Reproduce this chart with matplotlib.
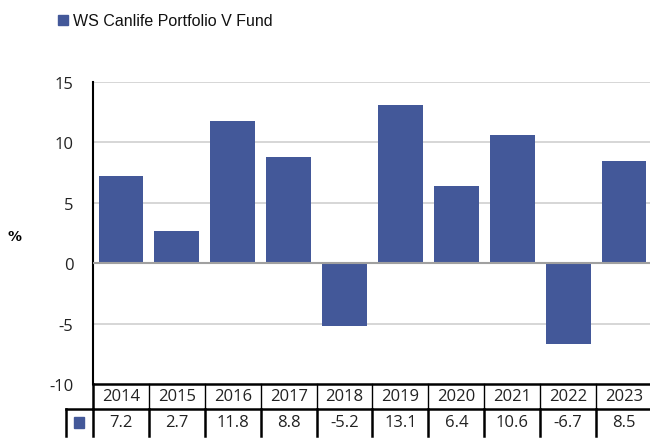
import matplotlib.pyplot as plt
from matplotlib.patches import Rectangle
import matplotlib.transforms as mtransforms

years = ["2014", "2015", "2016", "2017", "2018", "2019", "2020", "2021", "2022", "2023"]
returns = [7.2, 2.7, 11.8, 8.8, -5.2, 13.1, 6.4, 10.6, -6.7, 8.5]
series_name = "WS Canlife Portfolio V Fund"
yticks = [-10, -5, 0, 5, 10, 15]

bar_color = "#435899"
W, H = 650, 439

fig = plt.figure(figsize=(6.5, 4.39), dpi=100)
ax = fig.add_axes([93 / W, (H - 385) / H, (652 - 93) / W, (385 - 83) / H])

x = list(range(len(years)))
ax.bar(x, returns, width=0.8, color=bar_color, zorder=3)
ax.set_xlim(-0.5, len(years) - 0.5)
ax.set_ylim(-10, 15)
ax.set_yticks(yticks)
ax.set_yticklabels([str(t) for t in yticks], fontsize=12, family="Open Sans", color="#222222")
ax.set_xticks([])
for t in yticks:
    if t == 0:
        ax.axhline(t, color="#a0a0a0", lw=1.5, zorder=4)
    elif t != -10:
        ax.axhline(t, color="#d0d0d0", lw=1.2, zorder=1)
for s in ["top", "right", "bottom"]:
    ax.spines[s].set_visible(False)
ax.spines["left"].set_linewidth(1.5)
ax.tick_params(axis="y", length=0, pad=14)

fig.text(14 / W, 1 - 237 / H, "%", fontsize=10, fontweight="bold", ha="center", va="center")

# legend
fig.patches.append(Rectangle((58 / W, 1 - 26 / H), 10 / W, 10 / H, transform=fig.transFigure,
                             color=bar_color))
fig.text(73 / W, 1 - 21 / H, series_name, fontsize=11.5, family="Liberation Sans",
         ha="left", va="center", color="#111111")

# data table under the chart
trans = mtransforms.blended_transform_factory(ax.transData, fig.transFigure)
fx = lambda px: px / W
fy = lambda py: 1 - py / H
y_top, y_mid, y_bot = fy(385), fy(410), fy(437)

ax.plot([-0.5, len(years) - 0.5], [y_top, y_top], transform=trans, color="black", lw=1.8, clip_on=False)
ax.plot([-0.5, len(years) - 0.5], [y_mid, y_mid], transform=trans, color="black", lw=1.8, clip_on=False)
fig.add_artist(plt.Line2D([fx(66), fx(93)], [y_mid, y_mid], color="black", lw=1.8))
fig.add_artist(plt.Line2D([fx(66), fx(66)], [y_mid, y_bot], color="black", lw=1.8))
fig.add_artist(plt.Line2D([fx(93), fx(93)], [y_top, y_bot], color="black", lw=1.8))
for i in range(1, len(years)):
    ax.plot([i - 0.5, i - 0.5], [y_top, y_mid], transform=trans, color="black", lw=1.0, clip_on=False)
    ax.plot([i - 0.5, i - 0.5], [y_mid, y_bot], transform=trans, color="black", lw=1.8, clip_on=False)

for i, (yr, v) in enumerate(zip(years, returns)):
    ax.text(i, (y_top + y_mid) / 2, yr, transform=trans, ha="center", va="center",
            fontsize=12, family="Open Sans", color="#222222")
    ax.text(i, (y_mid + y_bot) / 2, f"{v:.1f}", transform=trans, ha="center", va="center",
            fontsize=12, family="Open Sans", color="#222222")

fig.patches.append(Rectangle((fx(74), fy(429)), 10 / W, 11 / H, transform=fig.transFigure,
                             color=bar_color))

fig.savefig("out.png", dpi=100)
